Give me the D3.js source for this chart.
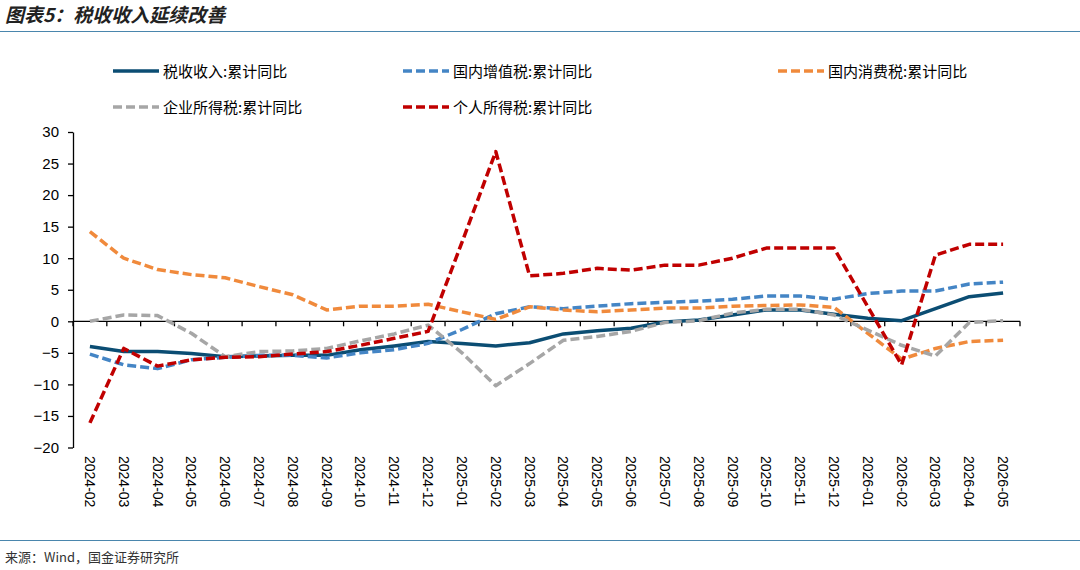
<!DOCTYPE html>
<html>
<head>
<meta charset="utf-8">
<script src="https://cdn.jsdelivr.net/npm/d3@7"></script>
<style>
  body { margin: 0; background: #fff; }
  text { font-family: "Liberation Sans", Arial, sans-serif; }
  .cjk { font-family: "Noto Sans CJK SC", sans-serif; }
</style>
</head>
<body>
<div id="chart"></div>
<script>
// months on x axis
const months = ["2024-02","2024-03","2024-04","2024-05","2024-06","2024-07","2024-08","2024-09","2024-10","2024-11","2024-12",
  "2025-01","2025-02","2025-03","2025-04","2025-05","2025-06","2025-07","2025-08","2025-09","2025-10","2025-11","2025-12",
  "2026-01","2026-02","2026-03","2026-04","2026-05"];

// 累计同比, %
const taxRevenue   = [-4.0,-4.8,-4.8,-5.1,-5.6,-5.5,-5.4,-5.4,-4.5,-3.9,-3.2,-3.5,-3.9,-3.4,-2.0,-1.5,-1.1,-0.1,0.2,1.0,1.8,1.8,1.1,0.5,0.1,2.0,3.9,4.5];
const vat          = [-5.2,-6.9,-7.5,-6.1,-5.7,-5.4,-5.4,-5.8,-5.0,-4.5,-3.5,-1.3,1.2,2.3,2.0,2.4,2.8,3.0,3.2,3.5,4.0,4.0,3.5,4.4,4.8,4.8,5.9,6.2];
const consumption  = [14.2,10.0,8.2,7.4,6.9,5.5,4.2,1.8,2.4,2.4,2.7,1.5,0.3,2.3,1.8,1.5,1.8,2.1,2.1,2.4,2.5,2.6,2.2,-1.9,-6.0,-4.3,-3.2,-3.0];
const corporate    = [0.0,1.0,0.9,-1.9,-5.6,-4.8,-4.7,-4.3,-3.1,-2.0,-0.6,-5.0,-10.2,-6.7,-3.0,-2.4,-1.6,-0.2,0.1,1.3,1.9,1.9,1.0,-1.4,-3.8,-5.5,-0.2,0.1];
const individual   = [-16.1,-4.3,-7.1,-6.1,-5.7,-5.6,-5.2,-4.8,-3.8,-2.7,-1.6,12.5,26.9,7.2,7.6,8.4,8.1,8.9,8.9,10.0,11.6,11.6,11.6,2.3,-6.9,10.5,12.2,12.2];

const seriesNames = ["税收收入:累计同比","国内增值税:累计同比","国内消费税:累计同比","企业所得税:累计同比","个人所得税:累计同比"];
const yTicks = [-20,-15,-10,-5,0,5,10,15,20,25,30];

const series = [
  {name: seriesNames[0], values: taxRevenue,  color: "#0b4d73", dash: null},
  {name: seriesNames[1], values: vat,         color: "#4485c5", dash: "9,4"},
  {name: seriesNames[2], values: consumption, color: "#f08a3c", dash: "9,4"},
  {name: seriesNames[3], values: corporate,   color: "#a6a6a6", dash: "9,4"},
  {name: seriesNames[4], values: individual,  color: "#c00000", dash: "9,4"}
];

const width = 1080, height = 570;

const svg = d3.select("#chart").append("svg")
  .attr("width", width)
  .attr("height", height);

// title + rules
svg.append("text")
  .attr("class", "cjk")
  .attr("x", 5).attr("y", 22)
  .attr("font-size", 19).attr("font-weight", "bold").attr("font-style", "italic")
  .attr("fill", "#222")
  .text("图表5：税收收入延续改善");

svg.append("line").attr("x1", 0).attr("x2", width).attr("y1", 31.5).attr("y2", 31.5)
  .attr("stroke", "#4a86ad").attr("stroke-width", 1);
svg.append("line").attr("x1", 0).attr("x2", width).attr("y1", 540.5).attr("y2", 540.5)
  .attr("stroke", "#4a86ad").attr("stroke-width", 1);

svg.append("text")
  .attr("class", "cjk")
  .attr("x", 5).attr("y", 562)
  .attr("font-size", 13).attr("fill", "#333")
  .text("来源：Wind，国金证券研究所");

// scales
const x = d3.scaleBand().domain(months).range([73, 1020]);
const y = d3.scaleLinear().domain([-20, 30]).range([447.5, 132]);
const cx = d => x(d) + x.bandwidth() / 2;

// y axis
const yAxis = svg.append("g")
  .attr("transform", "translate(73,0)")
  .call(d3.axisLeft(y).tickValues(yTicks).tickSize(5).tickSizeOuter(0).tickPadding(9));
yAxis.select(".domain").attr("stroke", "#000").attr("stroke-width", 1.3);
yAxis.selectAll(".tick line").attr("stroke", "#000").attr("stroke-width", 1.3);
yAxis.selectAll(".tick text").attr("font-size", 15).attr("fill", "#000")
  .attr("font-family", "'Liberation Sans', Arial, sans-serif");

// zero line with ticks at category boundaries
const zeroY = y(0);
svg.append("line").attr("x1", 73).attr("x2", 1020).attr("y1", zeroY).attr("y2", zeroY)
  .attr("stroke", "#000").attr("stroke-width", 1.3);
svg.append("g").selectAll("line")
  .data(months.concat(["end"]))
  .join("line")
    .attr("x1", d => d === "end" ? 1020 : x(d))
    .attr("x2", d => d === "end" ? 1020 : x(d))
    .attr("y1", zeroY).attr("y2", zeroY + 5)
    .attr("stroke", "#000").attr("stroke-width", 1.3);

// x labels at the bottom, rotated
svg.append("g").selectAll("text")
  .data(months)
  .join("text")
    .attr("transform", d => `translate(${cx(d) - 5},456) rotate(90)`)
    .attr("font-size", 14)
    .attr("fill", "#000")
    .text(d => d);

// lines
const line = d3.line()
  .x((d, i) => cx(months[i]))
  .y(d => y(d));

svg.append("g").selectAll("path")
  .data(series)
  .join("path")
    .attr("d", d => line(d.values))
    .attr("fill", "none")
    .attr("stroke", d => d.color)
    .attr("stroke-width", 3.5)
    .attr("stroke-dasharray", d => d.dash)
    .attr("stroke-linejoin", "round");

// legend
const legendPos = [[113, 71], [403, 71], [778, 71], [113, 107], [403, 107]];
const legend = svg.append("g").selectAll("g")
  .data(series)
  .join("g")
    .attr("transform", (d, i) => `translate(${legendPos[i][0]},${legendPos[i][1]})`);
legend.append("line")
  .attr("x1", 0).attr("x2", 46).attr("y1", 0).attr("y2", 0)
  .attr("stroke", d => d.color).attr("stroke-width", 3.5)
  .attr("stroke-dasharray", d => d.dash);
legend.append("text")
  .attr("class", "cjk")
  .attr("x", 50).attr("y", 5.5)
  .attr("font-size", 15).attr("fill", "#000")
  .text(d => d.name);
</script>
</body>
</html>
